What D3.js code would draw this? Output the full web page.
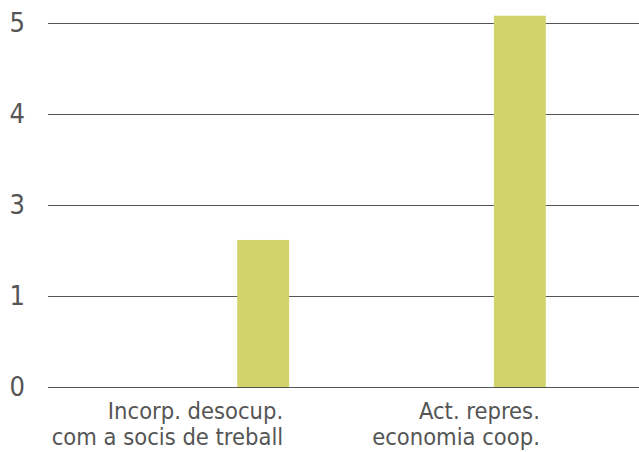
<!DOCTYPE html>
<html>
<head>
<meta charset="utf-8">
<script src="https://cdn.jsdelivr.net/npm/d3@7"></script>
<style>
  body { margin: 0; background: #fff; }
  svg text { font-family: "DejaVu Sans Condensed", "DejaVu Sans", sans-serif; font-stretch: condensed; fill: #555; }
</style>
</head>
<body>
<svg width="639" height="452"></svg>
<script>
const categories = [
  ['Incorp. desocup.', 'com a socis de treball'],
  ['Act. repres.', 'economia coop.'],
]
const values = [2.02, 5.1]
const yTicks = [0, 1.25, 2.5, 3.75, 5]

const svg = d3.select('svg')
const margins = { top: 23, right: 0, bottom: 65, left: 48 }
const width = 639 - margins.left - margins.right
const height = 452 - margins.top - margins.bottom

const g = svg.append('g')
  .attr('transform', `translate(${margins.left}, ${margins.top})`)

const x = d3.scaleBand()
  .domain(d3.range(categories.length))
  .range([0, width])
  .paddingInner(0.7977)
  .paddingOuter(0.55)
  .align(0.67)

const y = d3.scaleLinear().domain([0, 5]).range([height, 0])

// gridlines + tick labels
const yAxis = d3.axisLeft(y)
  .tickValues(yTicks)
  .tickFormat(d3.format('.0f'))
  .tickSize(-width)
  .tickPadding(23)

g.append('g')
  .attr('class', 'axis axis--y')
  .call(yAxis)
  .call((a) => a.select('.domain').remove())
  .call((a) => a.selectAll('line').attr('stroke', '#555').attr('stroke-width', 1))
  .call((a) => a.selectAll('text')
    .attr('font-size', 27)
    .attr('fill', '#555')
    .style('font-family', '"DejaVu Sans Condensed", "DejaVu Sans", sans-serif'))

// bars
g.selectAll('.bar')
  .data(values)
  .enter()
  .append('rect')
  .attr('class', 'bar')
  .attr('x', (d, i) => x(i))
  .attr('width', x.bandwidth())
  .attr('y', (d) => y(d))
  .attr('height', (d) => y(0) - y(d))
  .attr('fill', '#d1d46a')

// category labels
const labels = g.selectAll('.cat-label')
  .data(categories)
  .enter()
  .append('text')
  .attr('class', 'cat-label')
  .attr('text-anchor', 'end')
  .attr('font-size', 23.5)
  .attr('transform', (d, i) => `translate(${x(i) + x.bandwidth() / 2 + 20}, ${height + 32})`)

labels.selectAll('tspan')
  .data((d) => d)
  .enter()
  .append('tspan')
  .attr('x', 0)
  .attr('dy', (d, i) => i === 0 ? 0 : 26)
  .text((d) => d)
</script>
</body>
</html>
